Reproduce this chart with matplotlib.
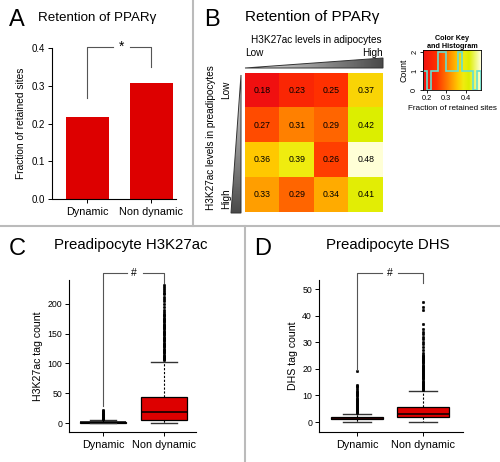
import numpy as np
import matplotlib
matplotlib.use('Agg')
import matplotlib.pyplot as plt
from matplotlib.colors import LinearSegmentedColormap
from matplotlib.patches import Polygon

plt.rcParams['font.family'] = ['Liberation Sans', 'DejaVu Sans']

# ---- data ----
groups = ['Dynamic', 'Non dynamic']
retained_frac = [0.218, 0.308]

heat_vals = [[0.18, 0.23, 0.25, 0.37],
             [0.27, 0.31, 0.29, 0.42],
             [0.36, 0.39, 0.26, 0.48],
             [0.33, 0.29, 0.34, 0.41]]
hist_bins = [0.18, 0.20, 0.22, 0.24, 0.26, 0.28, 0.30, 0.32, 0.34, 0.36,
             0.38, 0.40, 0.42, 0.44, 0.46, 0.48]

# H3K27ac tag count box stats (q1, median, q3, low whisker, high whisker)
h3_dyn = [0, 1, 2, 0, 5]
h3_non = [5, 18, 44, 0, 103]
h3_dyn_out = [6, 7, 8, 9, 10, 11, 12, 13, 14, 15, 16, 17, 18, 20, 22]
h3_non_out = [105, 107, 109, 111, 113, 115, 117, 119, 121, 123, 125, 127, 129,
              131, 133, 135, 137, 139, 141, 143, 145, 147, 149, 151, 153, 155,
              157, 159, 161, 163, 165, 167, 169, 171, 173, 175, 177, 179, 181,
              183, 186, 190, 194, 199, 204, 208, 212, 216, 219, 222, 225, 228, 231]

# DHS tag count box stats
dhs_dyn = [1.0, 1.2, 1.8, 0, 3]
dhs_non = [1.7, 3.0, 5.6, 0, 11.5]
dhs_dyn_out = [3.3, 3.6, 4.0, 4.4, 4.8, 5.2, 5.6, 6.0, 6.4, 6.8, 7.2, 7.6, 8.0,
               8.4, 8.8, 9.2, 9.6, 10.0, 10.4, 10.8, 11.2, 11.6, 12.4, 13.0,
               13.5, 14.0, 19.0]
dhs_non_out = [12.0, 12.4, 12.8, 13.2, 13.6, 14.0, 14.4, 14.8, 15.2, 15.6, 16.0,
               16.4, 16.8, 17.2, 17.6, 18.0, 18.4, 18.8, 19.2, 19.6, 20.0, 20.4,
               20.8, 21.2, 21.6, 22.0, 22.4, 22.8, 23.2, 23.6, 24.0, 24.4, 24.8,
               25.2, 26.0, 27.0, 28.3, 29.2, 30.2, 31.2, 32.0, 33.0, 33.8, 34.8,
               37.0, 42.3, 43.2, 45.0]

RED = '#DD0000'
W, H = 500, 462
fig = plt.figure(figsize=(5, 4.62), dpi=100)


def px_axes(x0, y0, x1, y1):
    return fig.add_axes([x0 / W, 1 - y1 / H, (x1 - x0) / W, (y1 - y0) / H])


# overlay in pixel coordinates for dividers, panel letters, titles
ov = fig.add_axes([0, 0, 1, 1])
ov.set_xlim(0, W)
ov.set_ylim(H, 0)
ov.axis('off')
div = dict(color='#BBBBBB', lw=1.5)
ov.plot([193, 193], [0, 226], **div)
ov.plot([0, W], [226, 226], **div)
ov.plot([245, 245], [226, H], **div)

for lab, x, y in [('A', 9, 26), ('B', 204, 26), ('C', 9, 255), ('D', 254, 255)]:
    ov.text(x, y, lab, fontsize=17, va='baseline')
ov.text(38, 21, 'Retention of PPARγ', fontsize=9.6, va='baseline')
ov.text(245, 21, 'Retention of PPARγ', fontsize=11, va='baseline')
ov.text(54, 249, 'Preadipocyte H3K27ac', fontsize=10.8, va='baseline')
ov.text(326, 249, 'Preadipocyte DHS', fontsize=10.8, va='baseline')

# ---- A: bar chart ----
axA = px_axes(52, 48, 185, 199)
xa = np.arange(len(groups))
axA.bar(xa, retained_frac, width=0.67, color=RED)
axA.set_xlim(-0.55, 1.53)
axA.set_ylim(0, 0.4)
axA.set_yticks([0, 0.1, 0.2, 0.3, 0.4])
axA.set_yticklabels(['0.0', '0.1', '0.2', '0.3', '0.4'])
axA.set_xticks(xa)
axA.set_xticklabels(groups)
axA.tick_params(axis='y', labelsize=7, length=3, width=0.7, pad=2)
axA.tick_params(axis='x', labelsize=7.8, length=3, width=0.7, pad=3)
for s in ['top', 'right']:
    axA.spines[s].set_visible(False)
axA.spines['left'].set_linewidth(0.8)
axA.spines['bottom'].set_linewidth(0.8)
axA.spines['bottom'].set_bounds(-0.53, 1.39)
axA.set_ylabel('Fraction of retained sites', fontsize=7.3, labelpad=4)
br = dict(color='#555555', lw=0.8, clip_on=False)
axA.plot([0, 0, 0.41], [0.268, 0.402, 0.402], **br)
axA.plot([0.67, 1, 1], [0.402, 0.402, 0.35], **br)
axA.text(0.54, 0.402, '*', ha='center', va='center', fontsize=10)

# ---- B: heatmap ----
heat_cmap = LinearSegmentedColormap.from_list(
    'heat', [(0.0, '#F01010'), (0.23, '#FF3000'), (0.43, '#FF8000'),
             (0.6, '#FFC800'), (0.7, '#F0EC10'), (0.8, '#DCEE00'),
             (1.0, '#FFFFD6')])
axB = px_axes(245, 73, 383, 212)
hv = np.array(heat_vals)
axB.imshow(hv, cmap=heat_cmap, vmin=0.18, vmax=0.48, aspect='auto')
for i in range(hv.shape[0]):
    for j in range(hv.shape[1]):
        axB.text(j, i, '%.2f' % hv[i, j], ha='center', va='center', fontsize=6.3)
axB.axis('off')

gray_cmap = LinearSegmentedColormap.from_list('g', ['#E4E4E4', '#4A4A4A'])
grad = np.linspace(0, 1, 100)
top_tri = Polygon([[245, 68], [383, 58], [383, 68]], closed=True,
                  facecolor='none', edgecolor='#333333', lw=0.7)
ov.add_patch(top_tri)
im1 = ov.imshow(grad[None, :], cmap=gray_cmap, extent=(245, 383, 68, 58),
                aspect='auto')
im1.set_clip_path(top_tri)
left_tri = Polygon([[241, 75], [241, 213], [231, 213]], closed=True,
                   facecolor='none', edgecolor='#333333', lw=0.7)
ov.add_patch(left_tri)
im2 = ov.imshow(grad[:, None], cmap=gray_cmap, extent=(231, 241, 213, 75),
                aspect='auto')
im2.set_clip_path(left_tri)
ov.set_xlim(0, W)
ov.set_ylim(H, 0)

ov.text(316, 43, 'H3K27ac levels in adipocytes', fontsize=7.2, ha='center',
        va='baseline')
ov.text(245, 56, 'Low', fontsize=7.2, ha='left', va='baseline')
ov.text(383, 56, 'High', fontsize=7.2, ha='right', va='baseline')
ov.text(211, 138, 'H3K27ac levels in preadipocytes', fontsize=7.2, rotation=90,
        ha='center', va='center')
ov.text(226, 90, 'Low', fontsize=7.2, rotation=90, ha='center', va='center')
ov.text(226, 199, 'High', fontsize=7.2, rotation=90, ha='center', va='center')

# color key
axK = px_axes(423, 50, 481, 90)
axK.imshow(np.linspace(0.18, 0.48, 100)[None, :], cmap=heat_cmap,
           extent=(0.18, 0.48, 0, 2.1), aspect='auto', vmin=0.18, vmax=0.48)
axK.hist(np.ravel(heat_vals), bins=hist_bins, histtype='step',
         color='#66E0D0', lw=1.2)
axK.set_xlim(0.18, 0.48)
axK.set_ylim(0, 2.1)
axK.set_xticks([0.2, 0.3, 0.4])
axK.set_yticks([0, 1, 2])
axK.set_yticklabels(['0', '1', '2'], rotation=90, va='center')
axK.tick_params(labelsize=5.3, length=2, width=0.6, pad=1.5)
for s in axK.spines.values():
    s.set_linewidth(0.6)
axK.set_ylabel('Count', fontsize=6.3, labelpad=2)
axK.set_xlabel('Fraction of retained sites', fontsize=5.9, labelpad=2)
axK.set_title('Color Key\nand Histogram', fontsize=5.2, fontweight='bold',
              pad=1, linespacing=1.1)


def stats(vals, out):
    q1, med, q3, lo, hi = vals
    return dict(q1=q1, med=med, q3=q3, whislo=lo, whishi=hi, fliers=out)


def draw_box(ax, data, widths, capw):
    ax.bxp(data, positions=[0, 1], widths=widths, capwidths=capw,
           patch_artist=True,
           boxprops=dict(facecolor=RED, edgecolor='black', lw=0.9),
           medianprops=dict(color='black', lw=1.1),
           whiskerprops=dict(color='black', lw=0.8, ls=(0, (2, 1.5))),
           capprops=dict(color='#333333', lw=1.0),
           flierprops=dict(marker='o', ms=1.9, mfc='black', mec='black',
                           mew=0.3))
    for s in ['top', 'right']:
        ax.spines[s].set_visible(False)
    ax.spines['left'].set_linewidth(0.8)
    ax.spines['bottom'].set_linewidth(0.8)
    ax.set_xticks([0, 1])
    ax.set_xticklabels(groups)
    ax.tick_params(axis='y', labelsize=6.3, length=3, width=0.7, pad=2)
    ax.tick_params(axis='x', labelsize=7.8, length=3, width=0.7, pad=3)


# ---- C: H3K27ac boxplot ----
axC = px_axes(69, 280, 196, 432)
draw_box(axC, [stats(h3_dyn, h3_dyn_out), stats(h3_non, h3_non_out)],
         0.76, 0.44)
axC.set_xlim(-0.557, 1.525)
axC.set_ylim(-15, 240)
axC.set_yticks([0, 50, 100, 150, 200])
axC.set_ylabel('H3K27ac tag count', fontsize=7.6, labelpad=3)
axC.plot([0, 0, 0.39], [28, 252, 252], **br)
axC.plot([0.66, 1, 1], [252, 252, 235], **br)
axC.text(0.5, 252, '#', ha='center', va='center', fontsize=7.5)

# ---- D: DHS boxplot ----
axD = px_axes(319, 280, 463, 432)
draw_box(axD, [stats(dhs_dyn, dhs_dyn_out), stats(dhs_non, dhs_non_out)],
         0.78, 0.41)
axD.set_xlim(-0.576, 1.606)
axD.set_ylim(-3.76, 53.4)
axD.set_yticks([0, 10, 20, 30, 40, 50])
axD.set_ylabel('DHS tag count', fontsize=7.6, labelpad=3)
axD.plot([0, 0, 0.38], [19.5, 56, 56], **br)
axD.plot([0.62, 1, 1], [56, 56, 52.3], **br)
axD.text(0.5, 56, '#', ha='center', va='center', fontsize=7.5)

fig.savefig('out.png', dpi=100)
